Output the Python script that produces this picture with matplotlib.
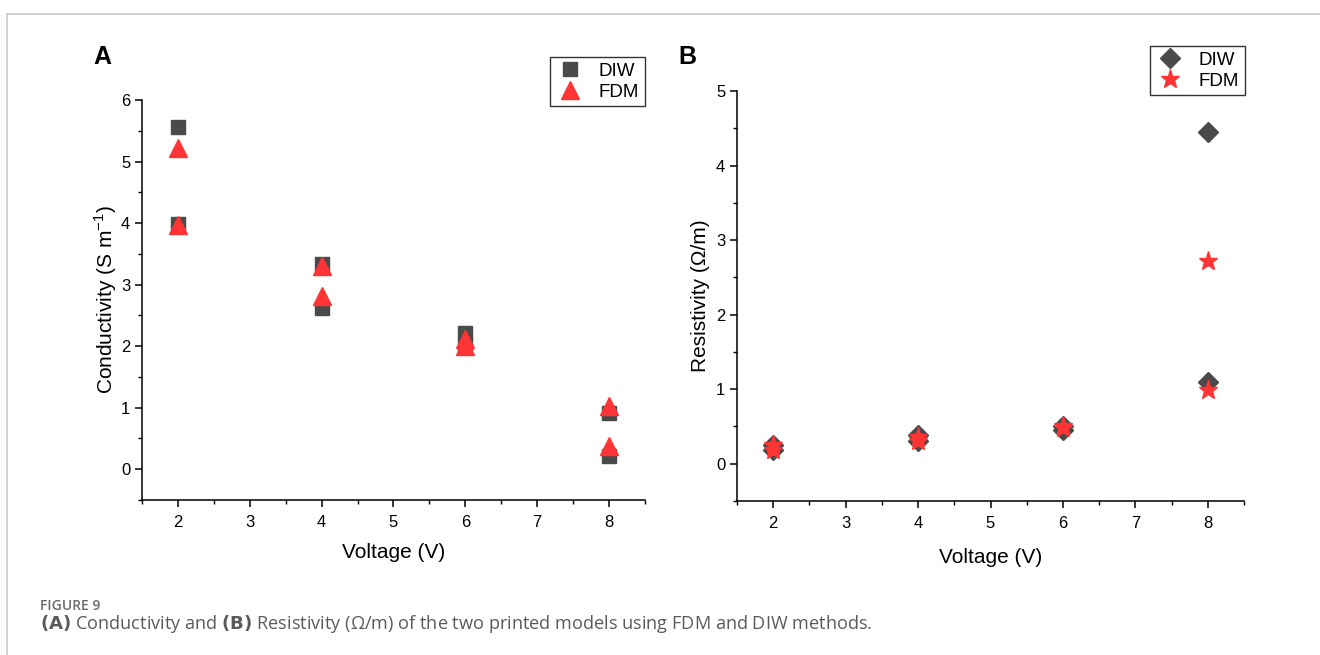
import matplotlib

matplotlib.use("Agg")
import matplotlib.pyplot as plt
from matplotlib.lines import Line2D
from matplotlib.ticker import MultipleLocator

plt.rcParams["font.family"] = ["Liberation Sans", "DejaVu Sans"]

# ---- data ----
voltage = [2, 2, 4, 4, 6, 6, 8, 8]

# (A) conductivity, S m^-1
cond_diw = [5.56, 3.99, 3.33, 2.62, 2.21, 2.02, 0.92, 0.22]
cond_fdm = [5.22, 3.97, 3.31, 2.81, 2.11, 2.00, 1.02, 0.38]

# (B) resistivity, ohm/m
res_diw = [0.18, 0.25, 0.30, 0.38, 0.45, 0.50, 1.10, 4.45]
res_fdm = [0.19, 0.25, 0.30, 0.36, 0.48, 0.50, 0.99, 2.72]

xticks = [2, 3, 4, 5, 6, 7, 8]

GREY = "#4a4a4a"
RED = "#ff3535"

W, H = 1320, 655
fig = plt.figure(figsize=(W / 100, H / 100), dpi=100)


def px_axes(left, top, right, bottom):
    return fig.add_axes([left / W, 1 - bottom / H, (right - left) / W, (bottom - top) / H])


def style(ax, ymax):
    ax.set_xlim(1.5, 8.5)
    ax.set_ylim(-0.5, ymax)
    ax.set_xticks(xticks)
    ax.xaxis.set_minor_locator(MultipleLocator(0.5))
    ax.yaxis.set_major_locator(MultipleLocator(1))
    ax.yaxis.set_minor_locator(MultipleLocator(0.5))
    for s in ("top", "right"):
        ax.spines[s].set_visible(False)
    for s in ("left", "bottom"):
        ax.spines[s].set_linewidth(1.1)
    ax.tick_params(which="major", direction="out", length=5, width=1.1, labelsize=12)
    ax.tick_params(axis="x", which="major", pad=6)
    ax.tick_params(which="minor", direction="out", length=3, width=1.0)


def add_legend(ax, right, top):
    leg = ax.legend(
        loc="upper right",
        bbox_to_anchor=(right / W, 1 - top / H),
        bbox_transform=fig.transFigure,
        fontsize=13.5,
        frameon=True,
        fancybox=False,
        edgecolor="black",
        borderpad=0.3,
        handletextpad=0.8,
        labelspacing=0.2,
        handlelength=1.5,
        borderaxespad=0,
    )
    leg.get_frame().set_linewidth(1.0)
    return leg


# ---- Panel A: conductivity ----
ax_a = px_axes(142, 100, 645, 500)
style(ax_a, 6.0)
ax_a.plot(voltage, cond_diw, ls="none", marker="s", ms=10, color=GREY, label="DIW")
ax_a.plot(voltage, cond_fdm, ls="none", marker="^", ms=13, color=RED, label="FDM")
ax_a.set_ylabel("Conductivity (S m$^{\\mathregular{-1}}$)", fontsize=15, labelpad=1)
ax_a.set_xlabel("Voltage (V)", fontsize=15, labelpad=9)
add_legend(ax_a, 645, 57)

# ---- Panel B: resistivity ----
ax_b = px_axes(737, 91, 1244, 501)
style(ax_b, 5.0)
ax_b.plot(voltage, res_diw, ls="none", marker="D", ms=10, color=GREY, label="DIW")
ax_b.plot(voltage, res_fdm, ls="none", marker="*", ms=14, color=RED, label="FDM")
ax_b.set_ylabel("Resistivity (Ω/m)", fontsize=15, labelpad=4)
ax_b.set_xlabel("Voltage (V)", fontsize=15, labelpad=12)
add_legend(ax_b, 1245, 46)

# panel letters
fig.text(93 / W, 1 - 57 / H, "A", fontsize=18, fontweight="bold", va="center", ha="left")
fig.text(678 / W, 1 - 57 / H, "B", fontsize=18, fontweight="bold", va="center", ha="left")

# page frame lines
fig.add_artist(Line2D([7 / W, 1], [1 - 14 / H, 1 - 14 / H], color="#cccccc", lw=1.2))
fig.add_artist(Line2D([7 / W, 7 / W], [0, 1 - 14 / H], color="#cccccc", lw=1.2))

# caption
cap_font = ["Open Sans", "DejaVu Sans"]
fig.text(40 / W, 1 - 606 / H, "FIGURE 9", fontsize=10, fontweight="semibold",
         color="#6a6a6a", family=cap_font, va="center", ha="left")
fig.text(40 / W, 1 - 624 / H,
         r"$\bf{(A)}$ Conductivity and $\bf{(B)}$ Resistivity (Ω/m) of the two printed models "
         "using FDM and DIW methods.",
         fontsize=13.1, color="#5a5a5a", family=cap_font, va="center", ha="left")

fig.savefig("out.png", dpi=100)
